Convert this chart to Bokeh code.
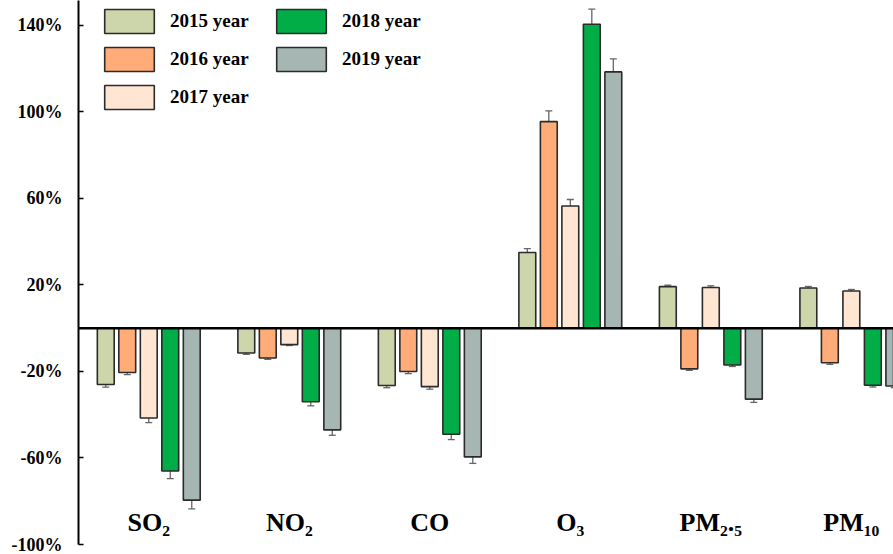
from bokeh.plotting import figure
from bokeh.models import (ColumnDataSource, Whisker, TeeHead, Span, Legend, LegendItem,
                          FixedTicker, PrintfTickFormatter)
from bokeh.transform import dodge
from bokeh.core.properties import value
from bokeh.embed import file_html
from bokeh.resources import INLINE

# ---- data ----
pollutants = ["SO₂", "NO₂", "CO", "O₃", "PM₂.₅", "PM₁₀"]
group_pos = [1, 2, 3, 4, 5, 6]
years = ["2015 year", "2016 year", "2017 year", "2018 year", "2019 year"]

v2015 = [-26.0, -11.5, -26.5, 35.0, 19.2, 18.6]
v2016 = [-20.5, -13.8, -20.0, 95.5, -18.8, -16.0]
v2017 = [-41.5, -7.6, -27.0, 56.5, 18.8, 17.2]
v2018 = [-66.0, -34.0, -49.0, 140.5, -17.0, -26.4]
v2019 = [-79.5, -47.0, -59.5, 118.5, -32.8, -26.7]

e2015 = [1.2, 0.6, 1.0, 1.8, 0.7, 0.7]
e2016 = [1.0, 0.6, 1.0, 5.0, 0.7, 0.7]
e2017 = [2.2, 0.4, 1.2, 3.0, 0.8, 0.7]
e2018 = [3.5, 1.9, 2.5, 7.0, 0.7, 0.8]
e2019 = [4.0, 2.5, 3.0, 6.0, 1.5, 0.8]

y_ticks = [-100, -60, -20, 20, 60, 100, 140]

colors = ["#CDD5AA", "#FFAC78", "#FFE6D3", "#00AD46", "#A6B6B2"]
offsets = [-0.306, -0.153, 0.0, 0.153, 0.306]
values_all = [v2015, v2016, v2017, v2018, v2019]
errors_all = [e2015, e2016, e2017, e2018, e2019]

FONT = "Liberation Serif"

p = figure(width=893, height=554, output_backend="svg", toolbar_location=None,
           x_range=(0.5, 6.30), y_range=(-100, 151.5))
p.min_border_left = 78
p.min_border_right = 0
p.min_border_top = 0
p.min_border_bottom = 10
p.outline_line_color = None
p.xgrid.visible = False
p.ygrid.visible = False
p.xaxis.visible = False
p.background_fill_color = "white"

ax = p.yaxis[0]
ax.ticker = FixedTicker(ticks=y_ticks)
ax.formatter = PrintfTickFormatter(format="%d%%")
ax.axis_line_width = 2
ax.axis_line_color = "black"
ax.major_tick_in = 5
ax.major_tick_out = 0
ax.major_tick_line_width = 1.5
ax.minor_tick_in = 0
ax.minor_tick_out = 0
ax.major_label_text_font = FONT
ax.major_label_text_font_style = "bold"
ax.major_label_text_font_size = "18px"
ax.major_label_text_color = "black"
ax.major_label_standoff = 16

renderers = []
for yr, col, off, vals, errs in zip(years, colors, offsets, values_all, errors_all):
    src = ColumnDataSource(dict(
        idx=group_pos,
        val=vals,
        upper=[v + e for v, e in zip(vals, errs)],
        lower=[v - e for v, e in zip(vals, errs)],
    ))
    r = p.vbar(x=dodge("idx", off), top="val", bottom=0, width=0.12, source=src,
               fill_color=col, line_color="#2b2b2b", line_width=1.6)
    renderers.append(r)
    w = Whisker(base=dodge("idx", off), upper="upper", lower="lower", source=src,
                line_color="#666666", line_width=1.3,
                upper_head=TeeHead(size=7, line_color="#666666", line_width=1.3),
                lower_head=TeeHead(size=7, line_color="#666666", line_width=1.3))
    p.add_layout(w)

p.add_layout(Span(location=0, dimension="width", line_color="black", line_width=2.5))

lsrc = ColumnDataSource(dict(x=group_pos, y=[-90.0] * len(group_pos), t=pollutants))
p.text(x="x", y="y", text="t", source=lsrc, text_font=value(FONT), text_font_style="bold",
       text_font_size="26px", text_align="center", text_baseline="alphabetic",
       text_color="black")

def make_legend(items, loc):
    lg = Legend(items=items, location=loc, orientation="vertical",
                glyph_width=62, glyph_height=30, label_height=30, spacing=8,
                label_standoff=10, padding=0, margin=0,
                label_text_font=FONT, label_text_font_style="bold",
                label_text_font_size="19px", label_text_color="black",
                background_fill_alpha=0, border_line_alpha=0)
    return lg

items1 = [LegendItem(label=years[i], renderers=[renderers[i]]) for i in range(3)]
items2 = [LegendItem(label=years[i], renderers=[renderers[i]]) for i in range(3, 5)]
p.add_layout(make_legend(items1, (20, 432)), "center")
p.add_layout(make_legend(items2, (192, 470)), "center")

open("out.html", "w").write(file_html(p, INLINE))
